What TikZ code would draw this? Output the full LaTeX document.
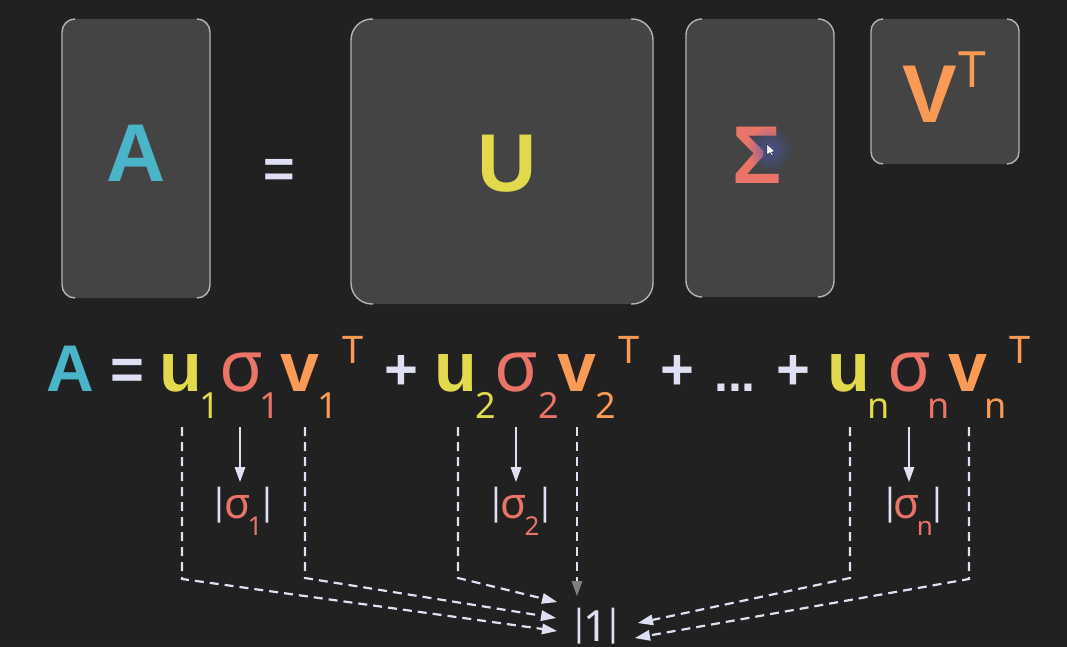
\documentclass[tikz,border=0pt]{standalone}
\usepackage{fontspec}
\setmainfont{Noto Sans}
\newfontfamily\bfam{Liberation Sans}
\usetikzlibrary{arrows.meta}
\definecolor{bg}{HTML}{212121}
\definecolor{boxfill}{HTML}{444444}
\definecolor{boxline}{HTML}{B4B4B4}
\definecolor{teal}{HTML}{4AB4C9}
\definecolor{yel}{HTML}{E2D94C}
\definecolor{coral}{HTML}{EA7468}
\definecolor{orng}{HTML}{FB9A55}
\definecolor{lav}{HTML}{E0E0F4}
\definecolor{glow}{HTML}{4A5AB5}
\newcommand\fsz[1]{\fontsize{#1}{#1}\selectfont}
\begin{document}
\begin{tikzpicture}[x=1pt,y=-1pt,
  g/.style={inner sep=0pt, outer sep=0pt, anchor=base},
  big/.style={g, font=\fsz{82}\bfam\bfseries},
  mainb/.style={g, font=\fsz{70}\bfam\bfseries},
  mainr/.style={g, font=\fsz{72}},
  subs/.style={g, font=\fsz{36}},
  sups/.style={g, font=\fsz{38}},
  op/.style={g, font=\fsz{58}\bfam\bfseries, text=lav},
  lbl/.style={g, font=\fsz{43}},
  lsub/.style={g, font=\fsz{26}, text=coral},
  bar/.style={inner sep=0pt, anchor=center, font=\fsz{36}, text=lav},
  dashln/.style={draw=lav, line width=2.2pt, dash pattern=on 9pt off 6pt,
     -{Triangle[length=15pt,width=11pt,fill=lav,line width=0pt]}},
  graytip/.style={draw=lav, line width=2.2pt, dash pattern=on 9pt off 6pt,
     -{Triangle[length=15pt,width=11pt,fill=gray,color=gray,line width=0pt]}},
  solidln/.style={draw=lav, line width=2pt,
     -{Triangle[length=15pt,width=11pt,fill=lav,line width=0pt]}},
  mbox/.style={fill=boxfill},
  mside/.style={draw=boxline, line width=1.4pt}
]
% background
\fill[bg] (0,0) rectangle (1067,647);
\useasboundingbox (0,0) rectangle (1067,647);

% boxes
\fill[mbox, rounded corners=13pt] (62,19) rectangle (210,298);
\draw[mside, rounded corners=13pt] (75,19) -- (62,19) -- (62,298) -- (75,298);
\draw[mside, rounded corners=13pt] (197,19) -- (210,19) -- (210,298) -- (197,298);

\fill[mbox, rounded corners=21pt] (351,19) rectangle (653,304);
\draw[mside, rounded corners=21pt] (373,19) -- (351,19) -- (351,304) -- (373,304);
\draw[mside, rounded corners=21pt] (631,19) -- (653,19) -- (653,304) -- (631,304);

\fill[mbox, rounded corners=16pt] (686,19) rectangle (834,297);
\draw[mside, rounded corners=16pt] (702,19) -- (686,19) -- (686,297) -- (702,297);
\draw[mside, rounded corners=16pt] (818,19) -- (834,19) -- (834,297) -- (818,297);

\fill[mbox, rounded corners=12pt] (871,19) rectangle (1019,164);
\draw[mside, rounded corners=12pt] (883,19) -- (871,19) -- (871,164) -- (883,164);
\draw[mside, rounded corners=12pt] (1007,19) -- (1019,19) -- (1019,164) -- (1007,164);

% top letters
\node[big, text=teal] (tA) at (136,182) {A};
\node[g, font=\fsz{54}\bfam\bfseries, text=lav] (teq) at (279,187) {=};
\node[big, text=yel] (tU) at (507,192) {U};
\node[big, text=coral] (tS) at (757,183) {Σ};
\foreach \r/\o in {22/0.10,18/0.12,14/0.15,10/0.18,6/0.2}
  \fill[glow, opacity=\o] (770,150) circle (\r pt);
\fill[white, draw=black, line width=0.3pt] (767,144) -- (767,155) -- (770,152.5) -- (772,156) -- (773.3,155.4) -- (771.5,152) -- (775,151.5) -- cycle;
\node[big, text=orng] (tV) at (930,123) {V};
\node[g, font=\fsz{50}, text=orng] (tT) at (972,88) {T};

% formula
\node[g, font=\fsz{66}\bfam\bfseries, text=teal] (fA) at (70,391) {A};
\node[op] (feq) at (127,389) {=};
\node[mainb, text=yel] (u1) at (181,391) {u};
\node[subs, text=yel] (u1s) at (210,418) {1};
\node[mainr, text=coral] (s1) at (242,391) {σ};
\node[subs, text=coral] (s1s) at (270,418) {1};
\node[mainb, text=orng] (v1) at (300,391) {v};
\node[subs, text=orng] (v1s) at (328,418) {1};
\node[sups, text=orng] (v1t) at (353,363) {T};
\node[op] (p1) at (401,389) {+};
\node[mainb, text=yel] (u2) at (456,391) {u};
\node[subs, text=yel] (u2s) at (486,418) {2};
\node[mainr, text=coral] (s2) at (517,391) {σ};
\node[subs, text=coral] (s2s) at (549,418) {2};
\node[mainb, text=orng] (v2) at (577,391) {v};
\node[subs, text=orng] (v2s) at (606,418) {2};
\node[sups, text=orng] (v2t) at (629,363) {T};
\node[op] (p2) at (677,389) {+};
\node[op, font=\fsz{50}\bfam\bfseries] (dots) at (735,391) {...};
\node[op] (p3) at (793,389) {+};
\node[mainb, text=yel] (un) at (849,391) {u};
\node[subs, text=yel] (uns) at (879,418) {n};
\node[mainr, text=coral] (sn) at (910,391) {σ};
\node[subs, text=coral] (sns) at (939,418) {n};
\node[mainb, text=orng] (vn) at (968,391) {v};
\node[subs, text=orng] (vns) at (996,418) {n};
\node[sups, text=orng] (vnt) at (1020,363) {T};

% |sigma| labels
\node[bar] (l1a) at (219,505) {|};
\node[lbl, text=coral] (l1s) at (238,518) {σ};
\node[lsub] (l1n) at (255,535) {1};
\node[bar] (l1b) at (267,505) {|};

\node[bar] (l2a) at (496,505) {|};
\node[lbl, text=coral] (l2s) at (514,518) {σ};
\node[lsub] (l2n) at (532,535) {2};
\node[bar] (l2b) at (545,505) {|};

\node[bar] (lna) at (890,505) {|};
\node[lbl, text=coral] (lns) at (907,518) {σ};
\node[lsub] (lnn) at (925,535) {n};
\node[bar] (lnb) at (937,505) {|};

% |1|
\node[bar] (oa) at (579,626) {|};
\node[lbl, text=lav] (one) at (596,641) {1};
\node[bar] (ob) at (613,626) {|};

% solid arrows
\coordinate (a1t) at (240,427); \coordinate (a1e) at (240,482);
\coordinate (a2t) at (516,427); \coordinate (a2e) at (516,482);
\coordinate (a3t) at (909,427); \coordinate (a3e) at (909,482);
\draw[solidln] (a1t) -- (a1e);
\draw[solidln] (a2t) -- (a2e);
\draw[solidln] (a3t) -- (a3e);

% dashed connectors
\coordinate (d1t) at (182,427); \coordinate (d1c) at (182,579); \coordinate (d1e) at (557,631);
\coordinate (d2t) at (305,427); \coordinate (d2c) at (305,578); \coordinate (d2e) at (556,618);
\coordinate (d3t) at (458,427); \coordinate (d3c) at (458,578); \coordinate (d3e) at (557,602);
\coordinate (d4t) at (577,427); \coordinate (d4e) at (577,596);
\coordinate (d5t) at (850,427); \coordinate (d5c) at (850,578); \coordinate (d5e) at (638,623);
\coordinate (d6t) at (969,427); \coordinate (d6c) at (969,579); \coordinate (d6e) at (635,638);
\draw[dashln] (d1t) -- (d1c) -- (d1e);
\draw[dashln] (d2t) -- (d2c) -- (d2e);
\draw[dashln] (d3t) -- (d3c) -- (d3e);
\draw[graytip] (d4t) -- (d4e);
\draw[dashln] (d5t) -- (d5c) -- (d5e);
\draw[dashln] (d6t) -- (d6c) -- (d6e);
\end{tikzpicture}
\end{document}
